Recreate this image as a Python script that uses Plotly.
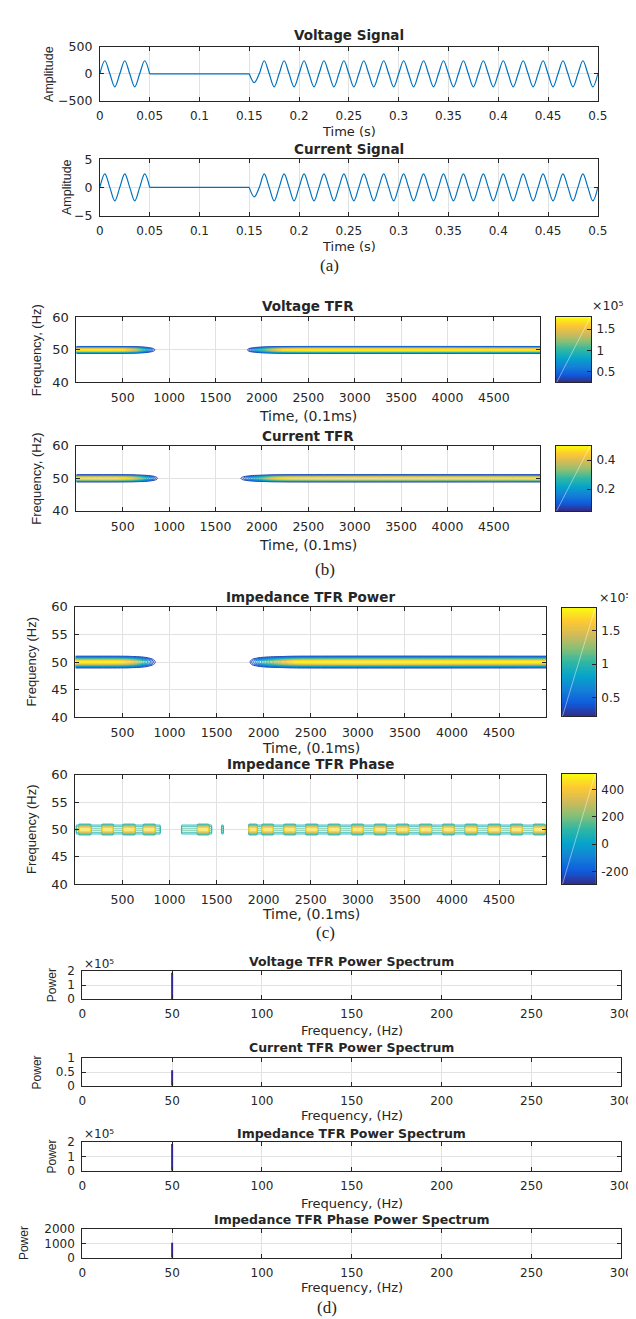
import plotly.graph_objects as go

W, H = 636, 1319

# ---------------- data ----------------
# (a) time signals, values read at quarter-period sample points (5 ms)
sig_dt = 0.005
volt_seg1 = [0, 240, 0, -240, 0, 240, 0, -240, 0, 240, 0]          # t = 0 .. 0.05 s
volt_gap = [0, 0]                                                   # t = 0.05 .. 0.15 s
volt_seg2 = [0, -163,
             0, 240, 0, -240, 0, 240, 0, -240, 0, 240, 0, -240, 0, 240, 0, -240,
             0, 240, 0, -240, 0, 240, 0, -240, 0, 240, 0, -240, 0, 240, 0, -240,
             0, 240, 0, -240, 0, 240, 0, -240, 0, 240, 0, -240, 0, 240, 0, -240,
             0, 240, 0, -240, 0, 240, 0, -240, 0, 240, 0, -240, 0, 240, 0, -240,
             0, 240, 0, -240,
             0]                                                     # t = 0.15 .. 0.5 s
curr_seg1 = [0, 2.4, 0, -2.4, 0, 2.4, 0, -2.4, 0, 2.4, 0]
curr_gap = [0, 0]
curr_seg2 = [0, -1.7,
             0, 2.4, 0, -2.4, 0, 2.4, 0, -2.4, 0, 2.4, 0, -2.4, 0, 2.4, 0, -2.4,
             0, 2.4, 0, -2.4, 0, 2.4, 0, -2.4, 0, 2.4, 0, -2.4, 0, 2.4, 0, -2.4,
             0, 2.4, 0, -2.4, 0, 2.4, 0, -2.4, 0, 2.4, 0, -2.4, 0, 2.4, 0, -2.4,
             0, 2.4, 0, -2.4, 0, 2.4, 0, -2.4, 0, 2.4, 0, -2.4, 0, 2.4, 0, -2.4,
             0, 2.4, 0, -2.4,
             0]
seg1_start, gap_times, seg2_start = 0.0, [0.05, 0.15], 0.15

# (b),(c) TFR band: relative frequency profile around 50 Hz
tfr_freqs = [40, 47.5, 48, 48.25, 48.5, 48.75, 49, 49.25, 49.5, 49.75, 50,
             50.25, 50.5, 50.75, 51, 51.25, 51.5, 51.75, 52, 52.5, 60]
tfr_profile = [0, 0, 0.001, 0.006, 0.024, 0.076, 0.192, 0.395, 0.662, 0.902, 1,
               0.902, 0.662, 0.395, 0.192, 0.076, 0.024, 0.006, 0.001, 0, 0]

# time envelopes (time in 0.1 ms units) and peaks
volt_env_t = [1, 400, 550, 650, 720, 780, 830, 870, 920, 1000, 1750, 1800, 1830, 1870, 1920, 2000, 2100, 2200, 2300, 5000]
volt_env = [1, 1, 0.95, 0.8, 0.6, 0.4, 0.22, 0.1, 0.02, 0, 0, 0.03, 0.12, 0.25, 0.4, 0.6, 0.8, 0.95, 1, 1]
volt_tfr_peak = 1.78e5
volt_cbar = [0.24e5, 1.78e5]

curr_env_t = [1, 450, 600, 700, 780, 840, 880, 930, 1000, 1700, 1740, 1770, 1820, 1900, 2000, 2100, 2200, 2300, 5000]
curr_env = [1, 1, 0.9, 0.7, 0.45, 0.25, 0.12, 0.03, 0, 0, 0.03, 0.13, 0.25, 0.45, 0.65, 0.85, 0.95, 1, 1]
curr_tfr_peak = 0.50
curr_cbar = [0.05, 0.50]

imp_env_t = [1, 450, 560, 650, 720, 780, 830, 870, 920, 1000, 1780, 1820, 1845, 1880, 1950, 2050, 2150, 2250, 2350, 5000]
imp_env = [1, 1, 0.95, 0.8, 0.6, 0.4, 0.22, 0.1, 0.02, 0, 0, 0.03, 0.12, 0.25, 0.45, 0.65, 0.8, 0.92, 1, 1]
imp_tfr_peak = 1.84e5
imp_cbar = [0.22e5, 1.84e5]

# impedance phase: band segments, block centres and levels
phase_freqs = [40, 48.9, 49.1, 49.3, 49.5, 49.7, 49.9, 50.1, 50.3, 50.5, 50.7, 50.9, 51.1, 60]
phase_profile = [0, 0, 0.2, 0.45, 0.7, 0.9, 1, 1, 0.9, 0.7, 0.45, 0.2, 0, 0]
phase_segments = [(10, 900), (1130, 1447), (1555, 1570), (1843, 5000)]
phase_blocks = [100, 342, 570, 785, 1359, 1865, 2044, 2277, 2510, 2749, 2998,
                3237, 3475, 3720, 3963, 4201, 4450, 4689, 4927]
phase_block_half = 60
phase_base, phase_block_peak = 160, 480
phase_cbar = [-294, 515]

# (d) power spectra: single line at 50 Hz
spec_freq = [50, 50]
volt_spec = [0, 1.9e5]
curr_spec = [0, 0.56]
imp_spec = [0, 1.88e5]
phase_spec = [0, 1040]

# ---------------- styling ----------------
FONT = "DejaVu Sans"
VFONT = "Liberation Sans"
TXT = "#262626"
GRID = "#e2e2e2"
SIG_BLUE = "#0072BD"
SPEC_COLOR = "#33279a"
EXP_LABEL = "\u00d710\u2075"
PARULA = ["#352a87", "#0f5cdd", "#1481d6", "#06a4ca", "#2eb7a4",
          "#87bf77", "#d1bb59", "#fec832", "#f9fb0e"]
parula = [[k / (len(PARULA) - 1), c] for k, c in enumerate(PARULA)]


def parula_at(f):
    f = min(max(f, 0.0), 1.0)
    pos = f * (len(PARULA) - 1)
    i = min(int(pos), len(PARULA) - 2)
    w = pos - i
    c0 = [int(PARULA[i][j:j + 2], 16) for j in (1, 3, 5)]
    c1 = [int(PARULA[i + 1][j:j + 2], 16) for j in (1, 3, 5)]
    return "rgb(%d,%d,%d)" % tuple(round(a + (b - a) * w) for a, b in zip(c0, c1))


def sub_scale(f0, f1, n=24):
    return [[k / (n - 1), parula_at(f0 + (f1 - f0) * k / (n - 1))] for k in range(n)]


fig = go.Figure()
layout = dict(width=W, height=H, margin=dict(l=0, r=0, t=0, b=0),
              paper_bgcolor="white", plot_bgcolor="white", showlegend=False,
              font=dict(family=FONT, color=TXT, size=12))
annotations = []
shapes = []


def xd(l, r):
    return [l / W, r / W]


def yd(t, b):
    return [1 - b / H, 1 - t / H]


def ann(text, x, y, size=12, bold=False, angle=0, family=FONT, xanchor="center"):
    annotations.append(dict(text=("<b>%s</b>" % text) if bold else text,
                            x=x / W, y=1 - y / H, xref="paper", yref="paper",
                            showarrow=False, xanchor=xanchor, yanchor="middle",
                            textangle=angle, font=dict(size=size, family=family, color=TXT)))


def axis_style(fs, **kw):
    d = dict(showline=True, linecolor=TXT, linewidth=1, mirror="ticks", ticks="inside",
             ticklen=4, tickcolor=TXT, showgrid=True, gridcolor=GRID, gridwidth=1,
             zeroline=False, ticklabelstandoff=4,
             tickfont=dict(size=fs, family=FONT, color=TXT))
    d.update(kw)
    return d


n = [0]


def new_axes(box, xkw, ykw, xfs, yfs):
    n[0] += 1
    i = n[0]
    sx = "" if i == 1 else str(i)
    l, r, t, b = box
    layout["xaxis" + sx] = axis_style(xfs, domain=xd(l, r), anchor="y" + sx, **xkw)
    layout["yaxis" + sx] = axis_style(yfs, domain=yd(t, b), anchor="x" + sx, **ykw)
    return "x" + sx, "y" + sx


def colorbar_axes(box, crange, tickvals, ticktext):
    n[0] += 1
    sx = str(n[0])
    l, r, t, b = box
    layout["xaxis" + sx] = dict(domain=xd(l, r), anchor="y" + sx, range=[0, 1],
                                showline=True, mirror=True, linecolor=TXT, linewidth=1,
                                showticklabels=False, ticks="", showgrid=False, zeroline=False,
                                fixedrange=True)
    layout["yaxis" + sx] = dict(domain=yd(t, b), anchor="x" + sx, range=crange, side="right",
                                showline=True, mirror=True, linecolor=TXT, linewidth=1,
                                ticks="inside", ticklen=4, tickcolor=TXT, showgrid=False,
                                zeroline=False, tickvals=tickvals, ticktext=ticktext,
                                ticklabelstandoff=2,
                                tickfont=dict(size=12, family=FONT, color=TXT))
    steps = 128
    ramp = [crange[0] + (crange[1] - crange[0]) * k / (steps - 1) for k in range(steps)]
    fig.add_trace(go.Heatmap(x=[0, 1], y=ramp, z=[[v, v] for v in ramp], colorscale=parula,
                             zmin=crange[0], zmax=crange[1], showscale=False,
                             hoverinfo="skip", xaxis="x" + sx, yaxis="y" + sx))
    shapes.append(dict(type="line", xref="x" + sx, yref="y" + sx, x0=0.02, x1=0.98,
                       y0=crange[0], y1=crange[1], line=dict(color="rgba(255,255,255,0.45)", width=1)))


# ---------------- (a) signals ----------------
sig_x = dict(range=[0, 0.5], tickvals=[0, 0.05, 0.1, 0.15, 0.2, 0.25, 0.3, 0.35, 0.4, 0.45, 0.5],
             ticktext=["0", "0.05", "0.1", "0.15", "0.2", "0.25", "0.3", "0.35", "0.4", "0.45", "0.5"])

for (box, s1, gap, s2, yr, ytv, title, ttl_y, xl_y, yl_x) in [
        ((90, 600, 31, 86), volt_seg1, volt_gap, volt_seg2, [-500, 500], [-500, 0, 500],
         "Voltage Signal", 19, 117, 38),
        ((90, 600, 145, 202), curr_seg1, curr_gap, curr_seg2, [-5, 5], [-5, 0, 5],
         "Current Signal", 135, 233, 57)]:
    xa, ya = new_axes(box, sig_x, dict(range=yr, tickvals=ytv), 12, 12.5)
    t1 = [round(seg1_start + k * sig_dt, 4) for k in range(len(s1))]
    t2 = [round(seg2_start + k * sig_dt, 4) for k in range(len(s2))]
    for tx, vy, shp in [(t1, s1, "spline"), (gap_times, gap, "linear"), (t2, s2, "spline")]:
        fig.add_trace(go.Scatter(x=tx, y=vy, mode="lines", xaxis=xa, yaxis=ya,
                                 line=dict(color=SIG_BLUE, width=1.2, shape=shp, smoothing=1.0),
                                 hoverinfo="skip"))
    ann(title, (box[0] + box[1]) / 2, ttl_y, size=13.5, bold=True)
    ann("Time (s)", (box[0] + box[1]) / 2, xl_y, size=13)
    ann("Amplitude", yl_x, (box[2] + box[3]) / 2, size=12.5, angle=-90, family=VFONT)
ann("(a)", 325, 253, size=17, family="Liberation Serif")

# ---------------- (b),(c) TFR contours ----------------
tfr_x = dict(range=[1, 5000], tickvals=[500, 1000, 1500, 2000, 2500, 3000, 3500, 4000, 4500])


def band_field(env, peak):
    return [[peak * p * e for e in env] for p in tfr_profile]


phase_t = list(range(0, 5001, 5))
phase_env = []
for tt in phase_t:
    v = 0
    for (s, e) in phase_segments:
        if s <= tt <= e:
            v = phase_base
            for c in phase_blocks:
                if abs(tt - c) <= phase_block_half:
                    v = phase_block_peak
    phase_env.append(v)
phase_field = [[p * e for e in phase_env] for p in phase_profile]

tfr_panels = [
    dict(box=(66, 541, 305, 371), cb=(557, 593, 305, 371), x=volt_env_t, y=tfr_freqs,
         z=band_field(volt_env, volt_tfr_peak), cr=volt_cbar, lev=(0.3e5, 0.1e5, 14),
         yt=[40, 50, 60], title="Voltage TFR", ty=294, xly=405, ylab="Frequency, (Hz)", ylx=25,
         cbt=([0.5e5, 1e5, 1.5e5], ["0.5", "1", "1.5"]), exp=(592, 293)),
    dict(box=(66, 541, 435, 501), cb=(557, 593, 435, 501), x=curr_env_t, y=tfr_freqs,
         z=band_field(curr_env, curr_tfr_peak), cr=curr_cbar, lev=(0.07, 0.03, 13),
         yt=[40, 50, 60], title="Current TFR", ty=425, xly=535, ylab="Frequency, (Hz)", ylx=25,
         cbt=([0.2, 0.4], ["0.2", "0.4"]), exp=None),
    dict(box=(65, 547, 598, 710), cb=(563, 598, 599, 709), x=imp_env_t, y=tfr_freqs,
         z=band_field(imp_env, imp_tfr_peak), cr=imp_cbar, lev=(0.3e5, 0.1e5, 15),
         yt=[40, 45, 50, 55, 60], title="Impedance TFR Power", ty=588, xly=741,
         ylab="Frequency (Hz)", ylx=20,
         cbt=([0.5e5, 1e5, 1.5e5], ["0.5", "1", "1.5"]), exp=(599, 589)),
    dict(box=(65, 547, 768, 879), cb=(563, 598, 767, 879), x=phase_t, y=phase_freqs,
         z=phase_field, cr=phase_cbar, lev=(50, 50, 8),
         yt=[40, 45, 50, 55, 60], title="Impedance TFR Phase", ty=757, xly=909,
         ylab="Frequency (Hz)", ylx=20,
         cbt=([-200, 0, 200, 400], ["-200", "0", "200", "400"]), exp=None),
]

for p in tfr_panels:
    xa, ya = new_axes(p["box"], tfr_x, dict(range=[40, 60], tickvals=p["yt"]), 12.5, 13)
    start, size, k = p["lev"]
    end = start + k * size
    zmin, zmax = p["cr"]
    cs = sub_scale((start - zmin) / (zmax - zmin), (end - zmin) / (zmax - zmin))
    fig.add_trace(go.Contour(x=p["x"], y=p["y"], z=p["z"], xaxis=xa, yaxis=ya,
                             colorscale=cs, autocontour=False,
                             contours=dict(start=start, end=end + size * 1e-6, size=size, coloring="lines"),
                             line=dict(width=1, smoothing=0.8), showscale=False, hoverinfo="skip"))
    colorbar_axes(p["cb"], p["cr"], *p["cbt"])
    l, r, t, b = p["box"]
    ann(p["title"], (l + r) / 2, p["ty"], size=13.5, bold=True)
    ann("Time, (0.1ms)", (l + r) / 2, p["xly"], size=14)
    ann(p["ylab"], p["ylx"], (t + b) / 2, size=13, angle=-90, family=VFONT)
    if p["exp"]:
        ann(EXP_LABEL, p["exp"][0], p["exp"][1], size=12.5, xanchor="left")

ann("(b)", 321, 560, size=17, family="Liberation Serif")
ann("(c)", 321, 928, size=17, family="Liberation Serif")

# ---------------- (d) spectra ----------------
spec_x = dict(range=[0, 300], tickvals=[0, 50, 100, 150, 200, 250, 300])
spec_panels = [
    dict(box=(72, 624, 967, 995), y=volt_spec, yr=[0, 2e5], yt=([0, 1e5, 2e5], ["0", "1", "2"]),
         title="Voltage TFR Power Spectrum", ty=957, xly=1027, ylx=41, exp=(72, 960)),
    dict(box=(72, 624, 1055, 1083), y=curr_spec, yr=[0, 1], yt=([0, 0.5, 1], ["0", "0.5", "1"]),
         title="Current TFR Power Spectrum", ty=1044, xly=1113, ylx=26, exp=None),
    dict(box=(72, 624, 1140, 1169), y=imp_spec, yr=[0, 2e5], yt=([0, 1e5, 2e5], ["0", "1", "2"]),
         title="Impedance TFR Power Spectrum", ty=1131, xly=1202, ylx=41, exp=(72, 1132)),
    dict(box=(72, 624, 1228, 1257), y=phase_spec, yr=[0, 2000],
         yt=([0, 1000, 2000], ["0", "1000", "2000"]),
         title="Impedance TFR Phase Power Spectrum", ty=1218, xly=1287, ylx=13, exp=None),
]
for p in spec_panels:
    xa, ya = new_axes(p["box"], spec_x, dict(range=p["yr"], tickvals=p["yt"][0], ticktext=p["yt"][1]),
                      12, 12)
    fig.add_trace(go.Scatter(x=spec_freq, y=p["y"], mode="lines", xaxis=xa, yaxis=ya,
                             line=dict(color=SPEC_COLOR, width=2), hoverinfo="skip"))
    l, r, t, b = p["box"]
    ann(p["title"], (l + r) / 2, p["ty"], size=12.5, bold=True)
    ann("Frequency, (Hz)", (l + r) / 2, p["xly"], size=13)
    ann("Power", p["ylx"], (t + b) / 2, size=12, angle=-90, family=VFONT)
    if p["exp"]:
        ann(EXP_LABEL, p["exp"][0], p["exp"][1], size=12, xanchor="left")
ann("(d)", 323, 1307, size=17, family="Liberation Serif")

layout["annotations"] = annotations
layout["shapes"] = shapes
fig.update_layout(**layout)
fig.write_html("out.html")
